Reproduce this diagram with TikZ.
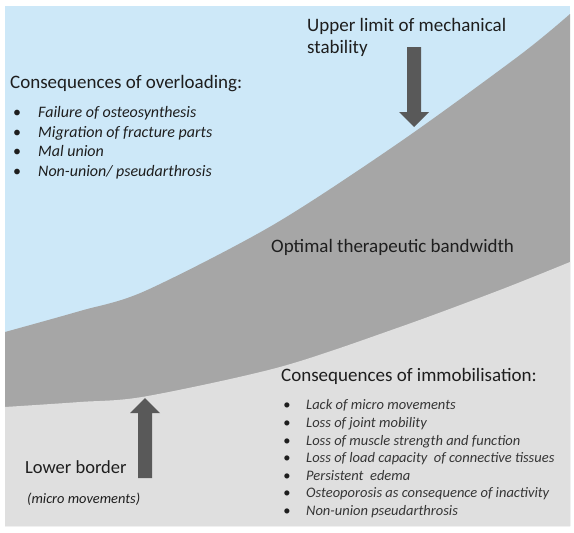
\documentclass[tikz,border=0pt]{standalone}
\usepackage{fontspec}
\setmainfont{Carlito}
\definecolor{skyfill}{HTML}{CDE8F8}
\definecolor{bandfill}{HTML}{A6A6A6}
\definecolor{lowfill}{HTML}{DFDFDF}
\definecolor{arrowfill}{HTML}{595959}
\definecolor{txt}{HTML}{1E1E1E}
\begin{document}
\begin{tikzpicture}[x=1pt,y=-1pt,
  head/.style={font=\fontsize{19}{22}\selectfont, text=txt, anchor=base west, inner sep=0pt},
  itema/.style={font=\fontsize{16}{19}\selectfont\itshape, text=txt, anchor=base west, inner sep=0pt},
  itemb/.style={font=\fontsize{14.5}{17}\selectfont\itshape, text=txt!90!white, anchor=base west, inner sep=0pt},
  bula/.style={font=\fontsize{16}{19}\selectfont, text=txt, anchor=base, inner sep=0pt},
  bulb/.style={font=\fontsize{14.5}{17}\selectfont, text=txt, anchor=base, inner sep=0pt},
  bigarrow/.style={fill=arrowfill}]
\useasboundingbox (0,0) rectangle (574,533);
\fill[white] (0,0) rectangle (574,533);
\fill[skyfill] (5,6) rectangle (570,526);
\fill[bandfill] plot[smooth] coordinates {(5,332) (80,311) (145,291) (273,225) (400,142) (520,55) (570,14)} -- (570,526) -- (5,526) -- cycle;
\fill[lowfill] plot[smooth] coordinates {(5,407) (80,402) (145,396.5) (280,367) (400,327) (500,290) (570,262)} -- (570,526) -- (5,526) -- cycle;

% arrows
\fill[bigarrow] (407,47) -- (421,47) -- (421,112) -- (429,112) -- (414,127) -- (399,112) -- (407,112) -- cycle;
\fill[bigarrow] (138,478) -- (152,478) -- (152,413) -- (160,413) -- (145,398) -- (130,413) -- (138,413) -- cycle;

% texts
\node[head] (up1) at (307,31) {Upper limit of mechanical};
\node[head] (up2) at (307,53) {stability};
\node[head] (over) at (10,88) {Consequences of overloading:};
\foreach \t [count=\i] in {Failure of osteosynthesis, Migration of fracture parts, Mal union, Non-union/ pseudarthrosis}{
  \node[bula] (ba\i) at (17,{98.5+19.4*\i}) {•};
  \node[itema] (ia\i) at (38,{98.5+19.4*\i}) {\t};
}
\node[head] (opt) at (271,252) {Optimal therapeutic bandwidth};
\node[head] (imm) at (281,381) {Consequences of immobilisation:};
\foreach \t [count=\i] in {Lack of micro movements, Loss of joint mobility, Loss of muscle strength and function, Loss of load capacity\ \ of connective tissues, Persistent\ \ edema, Osteoporosis as consequence of inactivity, Non-union pseudarthrosis}{
  \node[bulb] (bb\i) at (287,{392.3+17.6*\i}) {•};
  \node[itemb] (ib\i) at (306,{392.3+17.6*\i}) {\t};
}
\node[head, font=\fontsize{18.5}{22}\selectfont] (low) at (25,473) {Lower border};
\node[itema, font=\fontsize{14.4}{17}\selectfont\itshape] (micro) at (27,503) {(micro movements)};
\end{tikzpicture}
\end{document}
